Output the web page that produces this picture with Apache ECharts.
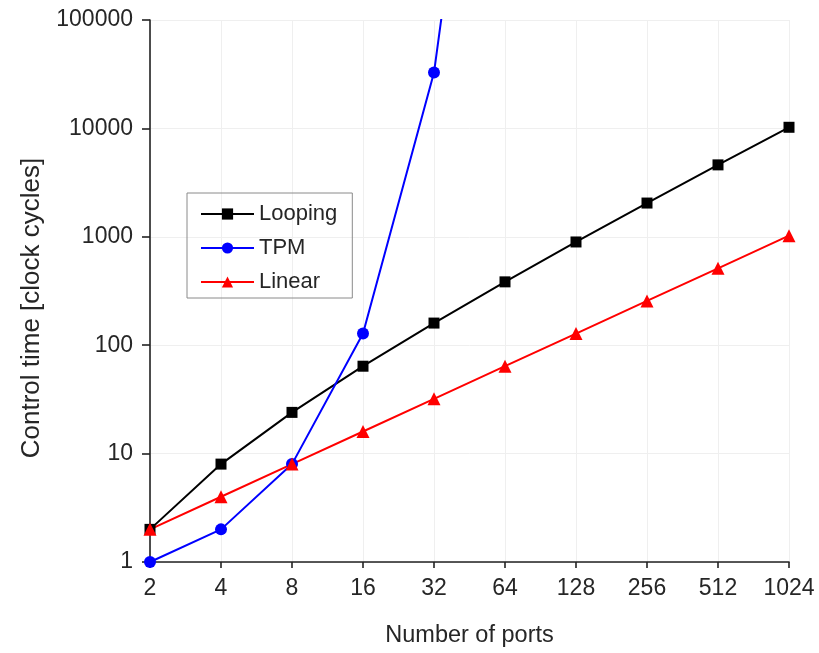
<!DOCTYPE html>
<html>
<head>
<meta charset="utf-8">
<script src="https://cdn.jsdelivr.net/npm/echarts@6/dist/echarts.min.js"></script>
<style>html,body{margin:0;padding:0;background:#fff}#c{width:819px;height:653px}</style>
</head>
<body>
<div id="c"></div>
<script>
const ports = ['2','4','8','16','32','64','128','256','512','1024'];
const looping = [2, 8, 24, 64, 160, 384, 896, 2048, 4608, 10240];
const tpm = [1, 2, 8, 128, 32768, 2147483648, null, null, null, null];
const linear = [2, 4, 8, 16, 32, 64, 128, 256, 512, 1024];
const yTicks = [1, 10, 100, 1000, 10000, 100000];

const FONT = 'Liberation Sans, Arial, sans-serif';
const TXT = '#262626';
const chart = echarts.init(document.getElementById('c'), null, {renderer: 'canvas'});
chart.setOption({
  animation: false,
  backgroundColor: '#fff',
  textStyle: {fontFamily: FONT},
  grid: {left: 150, right: 30, top: 20, bottom: 90.5, containLabel: false},
  legend: {
    orient: 'vertical',
    left: 187, top: 193,
    padding: [10, 15, 5, 13],
    itemWidth: 53, itemHeight: 14, itemGap: 12,
    borderColor: '#8a8a8a', borderWidth: 1,
    textStyle: {fontSize: 22, color: TXT, fontFamily: FONT, lineHeight: 22},
    data: ['Looping', 'TPM', 'Linear']
  },
  xAxis: {
    type: 'category',
    data: ports,
    boundaryGap: false,
    name: 'Number of ports',
    nameLocation: 'middle',
    nameGap: 62,
    nameTextStyle: {fontSize: 23.5, color: TXT, fontFamily: FONT},
    axisLine: {lineStyle: {color: '#222', width: 1.6}},
    axisTick: {alignWithLabel: true, length: 6, lineStyle: {color: '#222', width: 1.6}},
    axisLabel: {fontSize: 23, color: TXT, margin: 15, fontFamily: FONT},
    splitLine: {show: true, lineStyle: {color: '#efefef', width: 1}}
  },
  yAxis: {
    type: 'log',
    logBase: 10,
    min: yTicks[0],
    max: yTicks[yTicks.length - 1],
    name: 'Control time [clock cycles]',
    nameLocation: 'middle',
    nameGap: 105,
    nameTextStyle: {fontSize: 26, color: TXT, fontFamily: FONT, padding: [0, 34, 0, 0]},
    axisLine: {show: true, lineStyle: {color: '#222', width: 1.6}},
    axisTick: {show: true, length: 8, lineStyle: {color: '#222', width: 1.6}},
    axisLabel: {fontSize: 23, color: TXT, margin: 17, fontFamily: FONT,
      formatter: v => String(Math.round(v))},
    splitLine: {show: true, lineStyle: {color: '#efefef', width: 1}},
    minorTick: {show: false}
  },
  series: [
    {name: 'Looping', type: 'line', data: looping, clip: true,
      symbol: 'rect', symbolSize: 11,
      itemStyle: {color: '#000'}, lineStyle: {color: '#000', width: 2}},
    {name: 'TPM', type: 'line', data: tpm, clip: true, connectNulls: false,
      symbol: 'circle', symbolSize: 12,
      itemStyle: {color: '#0000ff'}, lineStyle: {color: '#0000ff', width: 2}},
    {name: 'Linear', type: 'line', data: linear, clip: true,
      symbol: 'triangle', symbolSize: 13,
      itemStyle: {color: '#ff0000'}, lineStyle: {color: '#ff0000', width: 2}}
  ]
});
</script>
</body>
</html>
